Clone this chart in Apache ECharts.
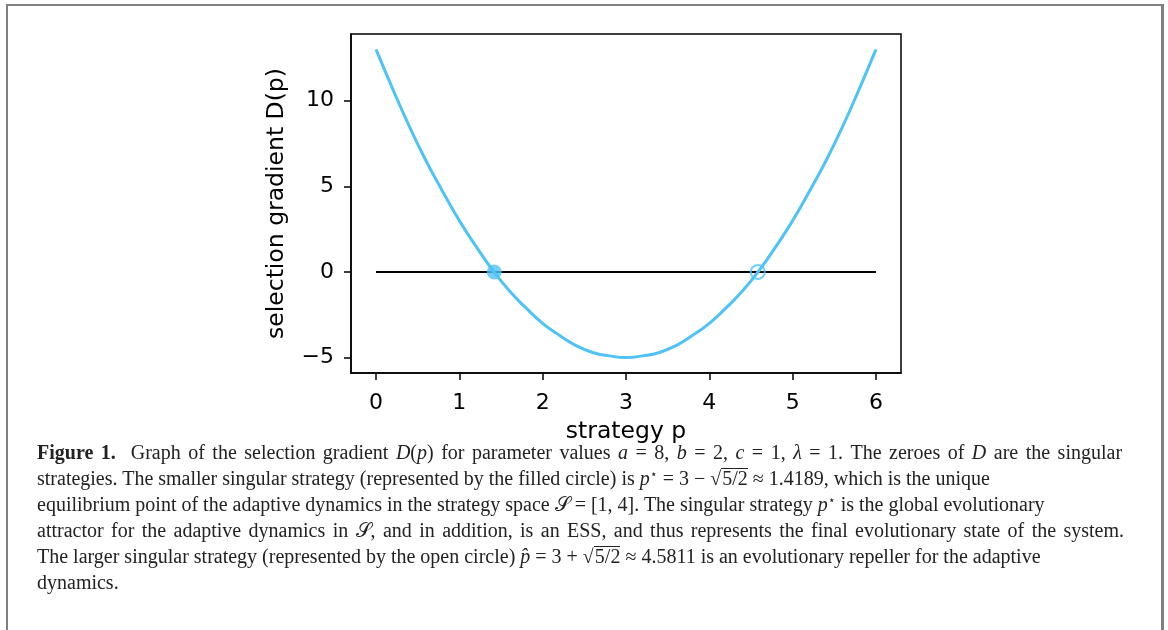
<!DOCTYPE html>
<html>
<head>
<meta charset="utf-8">
<script src="https://cdn.jsdelivr.net/npm/echarts@6/dist/echarts.min.js"></script>
<style>
  html, body { margin: 0; padding: 0; background: #fff; }
  #wrap { position: relative; width: 1168px; height: 630px; overflow: hidden; }
  #chart { position: absolute; left: 0; top: 0; width: 1168px; height: 630px; }
  #frame { position: absolute; left: 6px; top: 4px; width: 1153px; height: 700px;
           border-left: 2px solid #808080; border-top: 2px solid #808080; border-right: 3px solid #808080; }
  #caption { position: absolute; left: 37px; top: 439px; font-family: "Liberation Serif", "DejaVu Serif", serif;
             font-size: 20px; color: #222; }
  #caption div { white-space: nowrap; height: 26px; line-height: 26px; }
  #caption div.j { text-align: justify; text-align-last: justify; }
  .sq { border-top: 1.5px solid #222; line-height: 18px; display: inline-block; padding-left: 1px; }
  .st { font-size: 12px; vertical-align: 7px; line-height: 0; }
  i { font-style: italic; }
</style>
</head>
<body>
<div id="wrap">
  <div id="frame"></div>
  <div id="chart"></div>
  <div id="caption">
    <div class="j" style="width:1085px"><b>Figure 1.</b>&nbsp; Graph of the selection gradient <i>D</i>(<i>p</i>) for parameter values <i>a</i> = 8, <i>b</i> = 2, <i>c</i> = 1, <i>λ</i> = 1. The zeroes of <i>D</i> are the singular</div>
    <div>strategies. The smaller singular strategy (represented by the filled circle) is <i>p</i><span class="st">⋆</span> = 3 − √<span class="sq">5/2</span> ≈ 1.4189, which is the unique</div>
    <div>equilibrium point of the adaptive dynamics in the strategy space 𝒮 = [1, 4]. The singular strategy <i>p</i><span class="st">⋆</span> is the global evolutionary</div>
    <div class="j" style="width:1087px">attractor for the adaptive dynamics in 𝒮, and in addition, is an ESS, and thus represents the final evolutionary state of the system.</div>
    <div>The larger singular strategy (represented by the open circle) <i>p̂</i> = 3 + √<span class="sq">5/2</span> ≈ 4.5811 is an evolutionary repeller for the adaptive</div>
    <div>dynamics.</div>
  </div>
</div>
<script>
// strategy p and the selection gradient D(p)
const pValues = [0, 0.2, 0.4, 0.6, 0.8, 1, 1.2, 1.4, 1.6, 1.8, 2, 2.2, 2.4, 2.6, 2.8, 3,
                 3.2, 3.4, 3.6, 3.8, 4, 4.2, 4.4, 4.6, 4.8, 5, 5.2, 5.4, 5.6, 5.8, 6];
const dValues = [13, 10.7, 8.5, 6.5, 4.7, 3, 1.5, 0.1, -1.1, -2.1, -3, -3.7, -4.3, -4.7, -4.9, -5,
                 -4.9, -4.7, -4.3, -3.7, -3, -2.1, -1.1, 0.1, 1.5, 3, 4.7, 6.5, 8.5, 10.7, 13];
const zeroLineP = [0, 6];
const zeroLineD = [0, 0];
const attractorP = [1.4189];   // filled circle
const repellerP = [4.5811];    // open circle
const xTicks = [0, 1, 2, 3, 4, 5, 6];
const yTicks = [-5, 0, 5, 10];

const curveColor = '#4fc3f7';
const tickFont = { fontFamily: 'DejaVu Sans', fontSize: 22, color: '#000' };
const nameFont = { fontFamily: 'DejaVu Sans', fontSize: 23.5, color: '#000' };

const chart = echarts.init(document.getElementById('chart'));
chart.setOption({
  animation: false,
  grid: { left: 351, top: 34, width: 550, height: 339, show: true, borderColor: '#000', borderWidth: 1.5 },
  xAxis: {
    type: 'value', min: -0.3, max: 6.3,
    name: 'strategy p', nameLocation: 'middle', nameGap: 47,
    nameTextStyle: nameFont,
    axisLine: { show: true, onZero: false, lineStyle: { color: '#000', width: 1.5 } },
    axisTick: { show: true, inside: false, length: 7, customValues: xTicks, lineStyle: { color: '#000', width: 1.5 } },
    axisLabel: Object.assign({ margin: 19, customValues: xTicks }, tickFont),
    splitLine: { show: false }
  },
  yAxis: {
    type: 'value', min: -5.9, max: 13.9,
    name: 'selection gradient D(p)', nameLocation: 'middle', nameGap: 62, nameRotate: 90,
    nameTextStyle: nameFont,
    axisLine: { show: true, onZero: false, lineStyle: { color: '#000', width: 1.5 } },
    axisTick: { show: true, inside: false, length: 7, customValues: yTicks, lineStyle: { color: '#000', width: 1.5 } },
    axisLabel: Object.assign({ margin: 17, customValues: yTicks,
      formatter: v => (v < 0 ? '\u2212' + Math.abs(v) : String(v)) }, tickFont),
    splitLine: { show: false }
  },
  series: [
    {
      type: 'line', data: zeroLineP.map((p, i) => [p, zeroLineD[i]]),
      symbol: 'none', lineStyle: { color: '#000', width: 2 }, z: 2
    },
    {
      type: 'line', data: pValues.map((p, i) => [p, dValues[i]]),
      smooth: true, symbol: 'none', lineStyle: { color: curveColor, width: 3 }, z: 3
    },
    {
      type: 'scatter', data: attractorP.map(p => [p, 0]),
      symbol: 'circle', symbolSize: 15, itemStyle: { color: curveColor }, z: 4
    },
    {
      type: 'scatter', data: repellerP.map(p => [p, 0]),
      symbol: 'circle', symbolSize: 14, itemStyle: { color: 'rgba(0,0,0,0)', borderColor: curveColor, borderWidth: 2 }, z: 4
    }
  ]
});
</script>
</body>
</html>
